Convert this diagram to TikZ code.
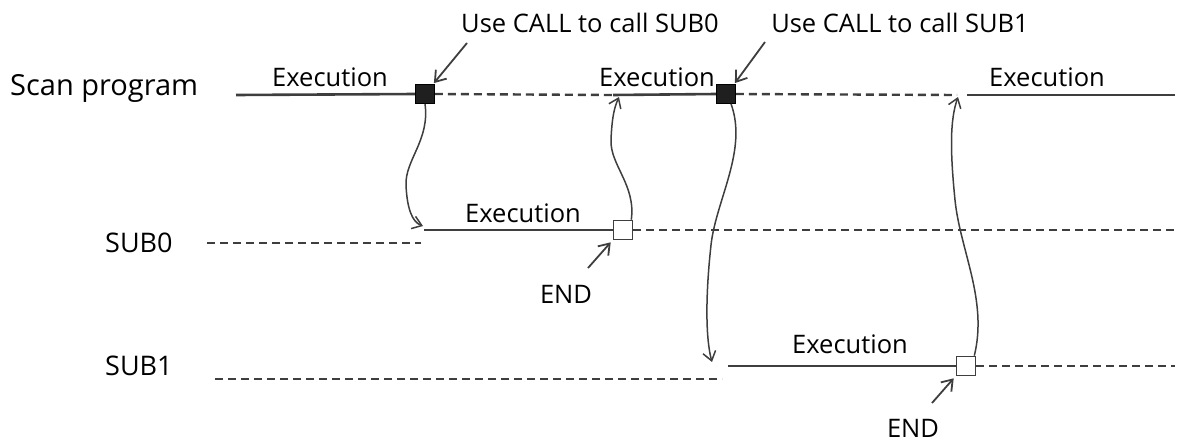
\documentclass[tikz,border=0pt]{standalone}
\usepackage{fontspec}
\setmainfont{Open Sans}
\usetikzlibrary{arrows.meta}
\definecolor{wire}{RGB}{62,62,62}
\tikzset{
  solidline/.style={draw=wire, line width=2.6pt},
  dashline/.style={draw=wire, line width=2.4pt, dash pattern=on 8pt off 5pt},
  callbox/.style={draw=black, fill=black!88, minimum size=19pt, inner sep=0pt, line width=0.8pt},
  endbox/.style={draw=wire, fill=white, minimum size=19pt, inner sep=0pt, line width=1.6pt},
  jump/.style={draw=wire, line width=1.5pt, -{Straight Barb[length=9pt,width=13pt,line width=1.5pt]}},
  pointer/.style={draw=wire, line width=1.8pt, -{Straight Barb[length=10pt,width=14pt,line width=1.8pt]}},
  lbl/.style={anchor=base, inner sep=0pt, font=\fontsize{25.5}{30}\selectfont},
  rowlbl/.style={anchor=base west, inner sep=0pt, font=\fontsize{27}{32}\selectfont},
}
\begin{document}
\begin{tikzpicture}[x=1pt, y=-1pt]
\useasboundingbox (0,0) rectangle (1177,442);

% row labels
\node[rowlbl, font=\fontsize{29}{34}\selectfont] (scan) at (10,95) {Scan program};
\node[rowlbl] (sub0) at (105,252) {SUB0};
\node[rowlbl] (sub1) at (105,375) {SUB1};

% call and end markers
\node[callbox] (c0) at (425,94) {};
\node[callbox] (c1) at (726,94) {};
\node[endbox] (e0) at (623,230) {};
\node[endbox] (e1) at (966,366) {};

% line end points
\coordinate (m0) at (236,95);
\coordinate (m1) at (613,95);
\coordinate (m2) at (957,95);
\coordinate (m3) at (967,95);
\coordinate (m4) at (1175,95);
\coordinate (a0) at (207,243);
\coordinate (a1) at (421,243);
\coordinate (a2) at (424,230);
\coordinate (a3) at (1175,230);
\coordinate (b0) at (215,379);
\coordinate (b1) at (722,379);
\coordinate (b2) at (728,366);
\coordinate (b3) at (1175,366);

% scan program timeline
\draw[solidline] (m0) -- (c0.west);
\draw[dashline] (c0.east) -- (m1);
\draw[solidline] (m1) -- (c1.west);
\draw[dashline] (c1.east) -- (m2);
\draw[solidline] (m3) -- (m4);

% SUB0 timeline
\draw[dashline] (a0) -- (a1);
\draw[solidline] (a2) -- (e0.west);
\draw[dashline] (e0.east) -- (a3);

% SUB1 timeline
\draw[dashline] (b0) -- (b1);
\draw[solidline] (b2) -- (e1.west);
\draw[dashline] (e1.east) -- (b3);

% redraw markers on top
\node[callbox] at (c0) {};
\node[callbox] at (c1) {};
\node[endbox] at (e0) {};
\node[endbox] at (e1) {};

% jumps between program and subroutines
\coordinate (j0) at (423,226);
\draw[jump] (c0.south) .. controls (430,140) and (405,160) .. (406,185)
  .. controls (407,208) and (412,222) .. (j0);
\coordinate (r0) at (619,97);
\draw[jump] ([xshift=-2pt]e0.north east) .. controls (636,185) and (610,165) .. (611,140)
  .. controls (612,115) and (615,106) .. (r0);
\coordinate (j1) at (712,362);
\draw[jump] ([xshift=5pt]c1.south) .. controls (748,150) and (716,200) .. (711,245)
  .. controls (705,300) and (706,340) .. (j1);
\coordinate (r1) at (958,97);
\draw[jump] ([xshift=-2pt]e1.north east) .. controls (988,300) and (960,250) .. (955,200)
  .. controls (950,150) and (950,120) .. (r1);

% texts
\node[lbl] (x0) at (330,86) {Execution};
\node[lbl] (x1) at (657,86) {Execution};
\node[lbl] (x2) at (1047,86) {Execution};
\node[lbl] (x3) at (523,222) {Execution};
\node[lbl] (x4) at (850,353) {Execution};
\node[lbl] (u0) at (590,32) {Use CALL to call SUB0};
\node[lbl] (u1) at (900,32) {Use CALL to call SUB1};
\node[lbl] (n0) at (566,303) {END};
\node[lbl] (n1) at (913,437) {END};

% callout pointers
\coordinate (p0) at (467,43);
\coordinate (p1) at (765,42);
\coordinate (q0) at (588,268);
\coordinate (q1) at (932,403);
\draw[pointer] (p0) -- ([shift={(-1pt,1pt)}]c0.north east);
\draw[pointer] (p1) -- ([shift={(-1pt,1pt)}]c1.north east);
\draw[pointer] (q0) -- ([shift={(-2pt,-2pt)}]e0.south west);
\draw[pointer] (q1) -- ([shift={(-2pt,-2pt)}]e1.south west);
\end{tikzpicture}
\end{document}
